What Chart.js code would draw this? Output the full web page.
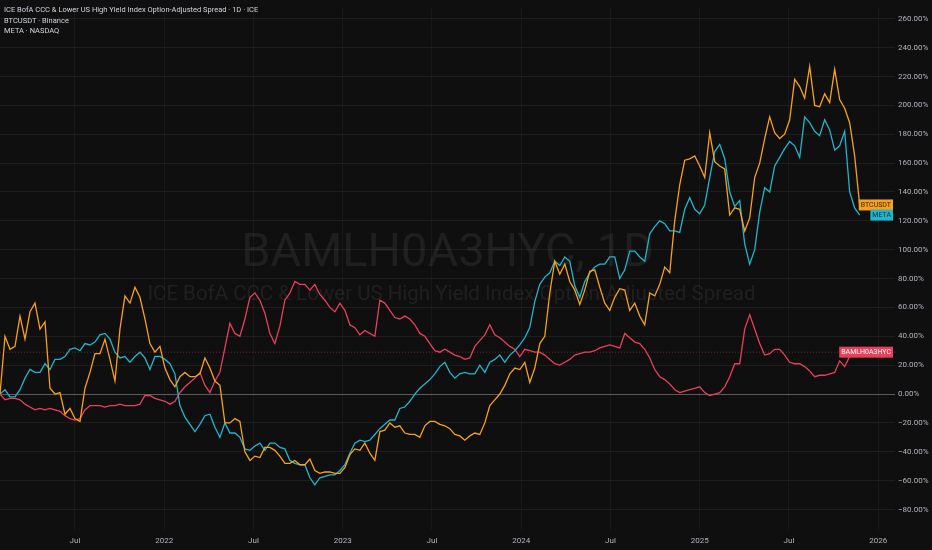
<!DOCTYPE html>
<html>
<head>
<meta charset="utf-8">
<script src="https://cdn.jsdelivr.net/npm/chart.js@4.4.1/dist/chart.umd.min.js"></script>
<style>
html, body { margin: 0; padding: 0; background: #0f0f0f; }
canvas { display: block; }
</style>
</head>
<body>
<canvas id="chart" width="932" height="550"></canvas>
<script>
// sample grid: one value about every ten days, starting early Feb 2021
const start_year = 2021.08;
const step_years = 0.028;

// percent change
const btc_values = [
	0, 40, 31, 33, 54, 38, 57, 63, 45, 50,
	4, 0, 1, -14, -10, -17, -19, 4, 15, 28,
	28, 38, 24, 9, 45, 68, 63, 74, 67, 52,
	35, 29, 33, 18, 10, 5, 12, 15, 12, 12,
	14, 25, 18, 9, 6, -20, -20, -17, -19, -40,
	-46, -43, -44, -37, -37, -39, -43, -48, -48, -46,
	-49, -49, -45, -53, -55, -54, -54, -55, -55, -51,
	-42, -38, -39, -34, -41, -46, -26, -25, -20, -23,
	-22, -27, -28, -28, -30, -22, -19, -19, -21, -22,
	-24, -28, -29, -32, -29, -27, -28, -20, -8, -4,
	0, 6, 14, 18, 17, 22, 8, 18, 35, 40,
	70, 92, 83, 90, 78, 72, 62, 72, 85, 86,
	74, 63, 58, 67, 73, 72, 58, 63, 54, 48,
	70, 68, 76, 88, 84, 120, 145, 162, 163, 165,
	158, 150, 181, 161, 158, 156, 124, 129, 128, 113,
	122, 150, 160, 177, 192, 181, 177, 180, 190, 218,
	213, 205, 227, 200, 199, 208, 202, 225, 204, 198,
	188, 165, 131
];

const meta_values = [
	0, 3, -2, -2, 3, 11, 17, 15, 15, 21,
	17, 24, 24, 26, 31, 32, 30, 35, 34, 36,
	41, 42, 38, 29, 25, 26, 22, 26, 29, 25,
	17, 26, 26, 24, 21, 14, -8, -16, -21, -26,
	-21, -15, -14, -23, -30, -20, -27, -27, -30, -38,
	-39, -36, -34, -39, -34, -34, -37, -38, -46, -48,
	-49, -49, -58, -63, -58, -57, -56, -56, -53, -49,
	-41, -34, -32, -33, -32, -28, -24, -21, -18, -18,
	-10, -9, -5, 0, 4, 7, 10, 14, 19, 22,
	15, 11, 14, 15, 14, 14, 20, 15, 22, 24,
	27, 22, 27, 30, 34, 39, 46, 64, 76, 81,
	84, 92, 89, 95, 92, 75, 67, 78, 84, 88,
	90, 90, 95, 95, 80, 86, 99, 99, 95, 92,
	111, 116, 120, 118, 113, 113, 112, 128, 136, 128,
	125, 131, 150, 168, 173, 163, 140, 130, 134, 104,
	90, 100, 126, 143, 140, 158, 164, 170, 175, 172,
	164, 192, 188, 182, 179, 190, 183, 169, 172, 182,
	140, 129, 124
];

const hy_values = [
	0, -4, -3, -3, -4, -7, -9, -11, -10, -11,
	-10, -11, -12, -15, -17, -18, -17, -11, -8, -8,
	-8, -9, -8, -8, -7, -8, -8, -8, -7, -1,
	-1, -3, -4, -5, -7, -5, 1, 5, 8, 11,
	15, 6, 1, 9, 15, 32, 49, 42, 40, 52,
	67, 70, 65, 56, 42, 35, 47, 65, 70, 78,
	76, 76, 72, 76, 69, 65, 60, 57, 63, 58,
	48, 46, 41, 44, 42, 40, 65, 63, 58, 53,
	52, 54, 52, 48, 42, 40, 35, 30, 29, 31,
	29, 27, 26, 24, 25, 33, 37, 41, 48, 41,
	39, 36, 33, 31, 26, 31, 30, 29, 29, 27,
	24, 21, 20, 22, 24, 27, 28, 29, 29, 30,
	32, 33, 34, 33, 32, 42, 39, 36, 35, 31,
	25, 17, 12, 10, 7, 3, 1, 2, 3, 4,
	5, 1, -1, 0, 1, 5, 12, 21, 21, 45,
	55, 45, 35, 27, 28, 31, 31, 27, 22, 21,
	21, 19, 16, 12, 13, 13, 14, 15, 23, 19,
	26, 28, 29
];

const x_ticks = [2021.5, 2022, 2022.5, 2023, 2023.5, 2024, 2024.5, 2025, 2025.5, 2026];
const x_labels = ['Jul', '2022', 'Jul', '2023', 'Jul', '2024', 'Jul', '2025', 'Jul', '2026'];
const y_ticks = [-80, -60, -40, -20, 0, 20, 40, 60, 80, 100, 120, 140, 160, 180, 200, 220, 240, 260];

const legend_lines = [
	'ICE BofA CCC & Lower US High Yield Index Option-Adjusted Spread \u00b7 1D \u00b7 ICE',
	'BTCUSDT \u00b7 Binance',
	'META \u00b7 NASDAQ'
];
const watermark_lines = [
	'BAMLH0A3HYC, 1D',
	'ICE BofA CCC & Lower US High Yield Index Option-Adjusted Spread'
];

const font_family = "Roboto, 'Noto Sans', sans-serif";

let to_points = (values) => values.map((v, i) => ({ x: start_year + i * step_years, y: v }));

let fmt_pct = (v) => (v < 0 ? '\u2212' : '') + Math.abs(v).toFixed(2) + '%';

const watermark = {
	id: 'watermark',
	beforeDatasetsDraw(chart) {
		const ctx = chart.ctx;
		const area = chart.chartArea;
		const cx = (area.left + area.right) / 2;
		const cy = (area.top + area.bottom) / 2;
		ctx.save();
		ctx.fillStyle = 'rgba(255, 255, 255, 0.065)';
		ctx.textAlign = 'center';
		ctx.textBaseline = 'middle';
		ctx.font = `47px ${font_family}`;
		ctx.fillText(watermark_lines[0], cx, cy - 15);
		ctx.font = `20.5px ${font_family}`;
		ctx.fillText(watermark_lines[1], cx + 4, cy + 26);
		ctx.restore();
	}
};

const value_tags = {
	id: 'value_tags',
	afterDatasetsDraw(chart) {
		const ctx = chart.ctx;
		const area = chart.chartArea;
		const y_scale = chart.scales.y;
		ctx.save();

		// dotted price line of the main series
		const main = chart.data.datasets[0];
		const main_y = y_scale.getPixelForValue(main.data[main.data.length - 1].y);
		ctx.strokeStyle = 'rgba(232, 64, 90, 0.45)';
		ctx.lineWidth = 1;
		ctx.setLineDash([1, 2]);
		ctx.beginPath();
		ctx.moveTo(area.left, main_y);
		ctx.lineTo(area.right, main_y);
		ctx.stroke();
		ctx.setLineDash([]);

		ctx.font = `7px ${font_family}`;
		ctx.textBaseline = 'middle';
		ctx.textAlign = 'center';
		chart.data.datasets.forEach((ds) => {
			const last = ds.data[ds.data.length - 1];
			const py = y_scale.getPixelForValue(last.y);
			const w = ctx.measureText(ds.label).width + 4;
			const right = area.right - 2;
			ctx.fillStyle = ds.borderColor;
			ctx.fillRect(right - w, py - 5.5, w, 11);
			ctx.fillStyle = ds.tagText;
			ctx.fillText(ds.label, right - w / 2, py + 0.5);
		});
		ctx.restore();
	},
	afterDraw(chart) {
		const ctx = chart.ctx;
		ctx.save();
		ctx.font = `7.5px ${font_family}`;
		ctx.fillStyle = '#d1d4dc';
		ctx.textBaseline = 'middle';
		ctx.textAlign = 'left';
		legend_lines.forEach((line, i) => {
			ctx.fillText(line, 4, 10 + i * 10.7);
		});
		ctx.restore();
	}
};

const config = {
	type: 'line',
	data: {
		datasets: [
			{
				label: 'BAMLH0A3HYC',
				data: to_points(hy_values),
				borderColor: '#e8405a',
				tagText: '#ffffff',
				order: 3
			},
			{
				label: 'BTCUSDT',
				data: to_points(btc_values),
				borderColor: '#f7a21b',
				tagText: '#3a2400',
				order: 1
			},
			{
				label: 'META',
				data: to_points(meta_values),
				borderColor: '#22b5cc',
				tagText: '#06303a',
				order: 2
			}
		]
	},
	options: {
		responsive: false,
		animation: false,
		layout: { padding: 0 },
		elements: {
			point: { radius: 0 },
			line: { borderWidth: 1.3, tension: 0 }
		},
		plugins: {
			legend: { display: false },
			tooltip: { enabled: false }
		},
		scales: {
			x: {
				type: 'linear',
				min: start_year,
				max: 2026.094,
				afterBuildTicks: (scale) => {
					scale.ticks = x_ticks.map((v) => ({ value: v }));
				},
				afterFit: (scale) => {
					scale.height = 20;
				},
				ticks: {
					autoSkip: false,
					maxRotation: 0,
					padding: 6,
					color: '#b2b5be',
					font: { family: font_family, size: 8 },
					callback: (v) => x_labels[x_ticks.indexOf(v)]
				},
				grid: { color: 'rgba(255, 255, 255, 0.04)', drawTicks: false },
				border: { display: false }
			},
			y: {
				position: 'right',
				min: -94.2,
				max: 267.6,
				afterBuildTicks: (scale) => {
					scale.ticks = y_ticks.map((v) => ({ value: v }));
				},
				afterFit: (scale) => {
					scale.width = 37;
				},
				ticks: {
					padding: 3,
					color: '#b2b5be',
					font: { family: font_family, size: 8 },
					callback: (v) => fmt_pct(v)
				},
				grid: {
					color: (c) => (c.tick && c.tick.value === 0 ? 'rgba(255, 255, 255, 0.32)' : 'rgba(255, 255, 255, 0.06)'),
					drawTicks: false
				},
				border: { display: false }
			}
		}
	},
	plugins: [watermark, value_tags]
};

new Chart(document.getElementById('chart'), config);
</script>
</body>
</html>
